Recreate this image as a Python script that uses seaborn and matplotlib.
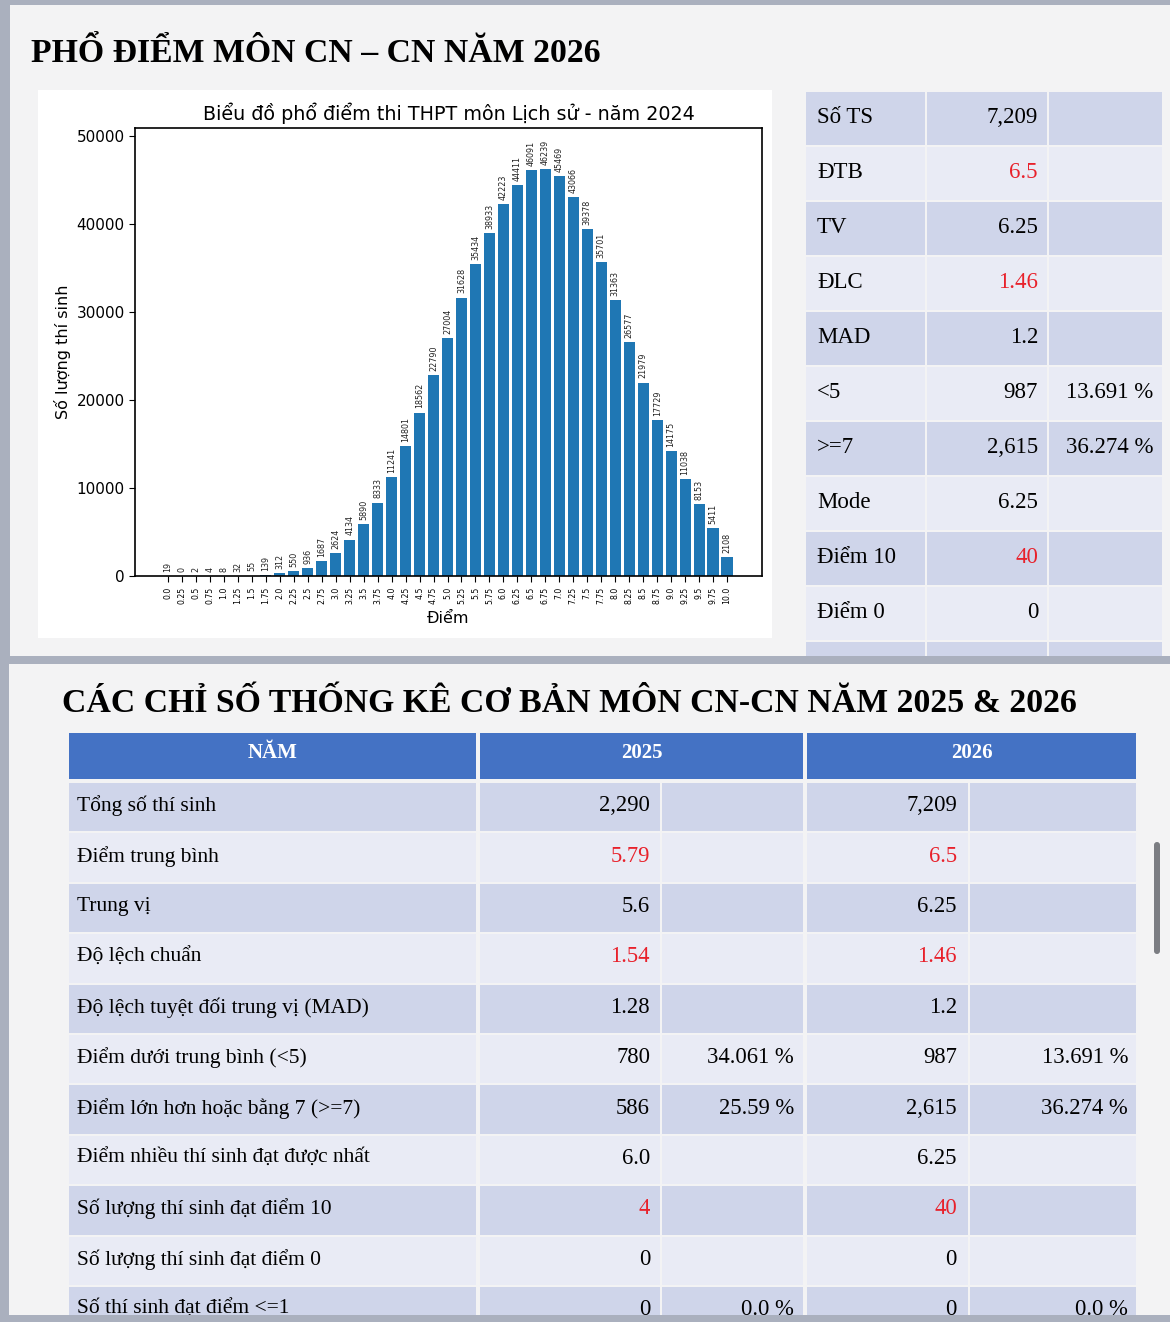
import matplotlib
matplotlib.use("Agg")
import matplotlib.pyplot as plt
from matplotlib.patches import Rectangle, FancyBboxPatch
import seaborn as sns
import pandas as pd

# ---------------- data ----------------
score_labels = ["0.0", "0.25", "0.5", "0.75", "1.0", "1.25", "1.5", "1.75", "2.0", "2.25",
                "2.5", "2.75", "3.0", "3.25", "3.5", "3.75", "4.0", "4.25", "4.5", "4.75",
                "5.0", "5.25", "5.5", "5.75", "6.0", "6.25", "6.5", "6.75", "7.0", "7.25",
                "7.5", "7.75", "8.0", "8.25", "8.5", "8.75", "9.0", "9.25", "9.5", "9.75", "10.0"]
counts = [19, 0, 2, 4, 8, 32, 55, 139, 312, 550,
          936, 1687, 2624, 4134, 5890, 8333, 11241, 14801, 18562, 22790,
          27004, 31628, 35434, 38933, 42223, 44411, 46091, 46239, 45469, 43066,
          39378, 35701, 31363, 26577, 21979, 17729, 14175, 11038, 8153, 5411, 2108]
y_ticks = [0, 10000, 20000, 30000, 40000, 50000]

side_labels = ["Số TS", "ĐTB", "TV", "ĐLC", "MAD", "<5", ">=7", "Mode", "Điểm 10", "Điểm 0", ""]
side_values = ["7,209", "6.5", "6.25", "1.46", "1.2", "987", "2,615", "6.25", "40", "0", ""]
side_pcts = ["", "", "", "", "", "13.691 %", "36.274 %", "", "", "", ""]
side_red = [False, True, False, True, False, False, False, False, True, False, False]

header_labels = ["NĂM", "2025", "2026"]
row_labels = ["Tổng số thí sinh", "Điểm trung bình", "Trung vị", "Độ lệch chuẩn",
              "Độ lệch tuyệt đối trung vị (MAD)", "Điểm dưới trung bình (<5)",
              "Điểm lớn hơn hoặc bằng 7 (>=7)", "Điểm nhiều thí sinh đạt được nhất",
              "Số lượng thí sinh đạt điểm 10", "Số lượng thí sinh đạt điểm 0",
              "Số thí sinh đạt điểm <=1"]
vals_2025 = ["2,290", "5.79", "5.6", "1.54", "1.28", "780", "586", "6.0", "4", "0", "0"]
pcts_2025 = ["", "", "", "", "", "34.061 %", "25.59 %", "", "", "", "0.0 %"]
vals_2026 = ["7,209", "6.5", "6.25", "1.46", "1.2", "987", "2,615", "6.25", "40", "0", "0"]
pcts_2026 = ["", "", "", "", "", "13.691 %", "36.274 %", "", "", "", "0.0 %"]
row_red = [False, True, False, True, False, False, False, False, True, False, False]

title_top = "PHỔ ĐIỂM MÔN CN – CN NĂM 2026"
title_bottom = "CÁC CHỈ SỐ THỐNG KÊ CƠ BẢN MÔN CN-CN NĂM 2025 & 2026"
chart_title = "Biểu đồ phổ điểm thi THPT môn Lịch sử - năm 2024"

# ---------------- style ----------------
W, H = 1170, 1322
GRAY = "#aab0be"
PANEL = "#f3f3f4"
DARK = "#cfd5ea"
LIGHT = "#e9ebf5"
BLUE = "#4472c4"
RED = "#e8212b"
SERIF = ["Liberation Serif", "DejaVu Serif"]

fig = plt.figure(figsize=(W / 100, H / 100), dpi=100)
fig.patch.set_facecolor(GRAY)

bg = fig.add_axes([0, 0, 1, 1])
bg.set_xlim(0, W)
bg.set_ylim(H, 0)
bg.axis("off")


def rect(x0, y0, x1, y1, color, z=1):
    bg.add_patch(Rectangle((x0, y0), x1 - x0, y1 - y0, facecolor=color, edgecolor="none", zorder=z))


# panels
rect(10, 5, W, 656, PANEL)
rect(9, 664, W, 1315, PANEL)

# titles
bg.text(31, 53, title_top, family=SERIF, fontweight="bold", fontsize=24.3,
        ha="left", va="center", color="black", zorder=3)
bg.text(62, 704, title_bottom, family=SERIF, fontweight="bold", fontsize=24.3,
        ha="left", va="center", color="black", zorder=3)

# chart white box
rect(38, 90, 772, 638, "white", z=1)

# ---------------- side table ----------------
col_edges = [(806, 925), (927, 1047), (1049, 1162)]
row_top0, row_h, gap = 92, 53, 2
for i, lab in enumerate(side_labels):
    y0 = row_top0 + i * (row_h + gap)
    y1 = min(y0 + row_h, 656)
    c = DARK if i % 2 == 0 else LIGHT
    for (a, b) in col_edges:
        rect(a, y0, b, y1, c, z=2)
    yc = (y0 + y0 + row_h) / 2 - 1
    bg.text(817, yc, lab, family=SERIF, fontsize=16.5, ha="left", va="center", zorder=3)
    bg.text(1038, yc, side_values[i], family=SERIF, fontsize=16.5, ha="right", va="center",
            color=RED if side_red[i] else "black", zorder=3)
    bg.text(1153, yc, side_pcts[i], family=SERIF, fontsize=16.5, ha="right", va="center", zorder=3)

# ---------------- bottom table ----------------
hdr_cols = [(69, 476), (480, 803), (807, 1136)]
for (a, b), lab in zip(hdr_cols, header_labels):
    rect(a, 733, b, 779, BLUE, z=2)
    bg.text((a + b) / 2, 753, lab, family=SERIF, fontweight="bold", fontsize=15,
            ha="center", va="center", color="white", zorder=3)

data_cols = [(69, 476), (480, 660), (662, 803), (807, 968), (970, 1136)]
r0, rh = 783, 50.4
for i, lab in enumerate(row_labels):
    y0 = r0 + i * rh
    y1 = y0 + rh - 2
    c = DARK if i % 2 == 0 else LIGHT
    for (a, b) in data_cols:
        rect(a, y0, b, y1, c, z=2)
    yc = (y0 + y1) / 2 - 1.5
    col = RED if row_red[i] else "black"
    bg.text(77, yc, lab, family=SERIF, fontsize=15.5, ha="left", va="center", zorder=3)
    bg.text(650, yc, vals_2025[i], family=SERIF, fontsize=16.3, ha="right", va="center", color=col, zorder=3)
    bg.text(794, yc, pcts_2025[i], family=SERIF, fontsize=16.3, ha="right", va="center", zorder=3)
    bg.text(957, yc, vals_2026[i], family=SERIF, fontsize=16.3, ha="right", va="center", color=col, zorder=3)
    bg.text(1128, yc, pcts_2026[i], family=SERIF, fontsize=16.3, ha="right", va="center", zorder=3)

# scrollbar
bg.add_patch(FancyBboxPatch((1154, 842), 6, 112, boxstyle="round,pad=0,rounding_size=3",
                            facecolor="#7b7d82", edgecolor="none", zorder=4))

# gray separators drawn on top (clip overflowing rows)
rect(0, 656, W, 664, GRAY, z=5)
rect(0, 1315, W, H, GRAY, z=5)
rect(0, 0, W, 5, GRAY, z=5)
rect(0, 0, 9, H, GRAY, z=5)

# ---------------- bar chart ----------------
ax = fig.add_axes([135 / W, 1 - 576 / H, (762 - 135) / W, (576 - 128) / H])
ax.set_facecolor("white")
df = pd.DataFrame({"score": score_labels, "count": counts})
sns.barplot(data=df, x="score", y="count", order=score_labels, color="#1f77b4",
            saturation=1, width=0.8, ax=ax)
ax.bar_label(ax.containers[0], labels=[str(v) for v in counts], rotation=90,
             fontsize=5.8, padding=3, color="#222222")
ax.set_xlim(-2.36, 42.5)
ax.set_ylim(0, 50900)
ax.set_yticks(y_ticks)
ax.tick_params(axis="y", labelsize=11, length=4)
ax.tick_params(axis="x", labelsize=5.6, rotation=90, length=4)
ax.set_xlabel("Điểm", fontsize=11.5, labelpad=5)
ax.set_ylabel("Số lượng thí sinh", fontsize=11.5, labelpad=4)
ax.set_title(chart_title, fontsize=13.8, pad=6)
for s in ax.spines.values():
    s.set_color("black")
    s.set_linewidth(1.2)

fig.savefig("out.png", dpi=100, facecolor=fig.get_facecolor())
